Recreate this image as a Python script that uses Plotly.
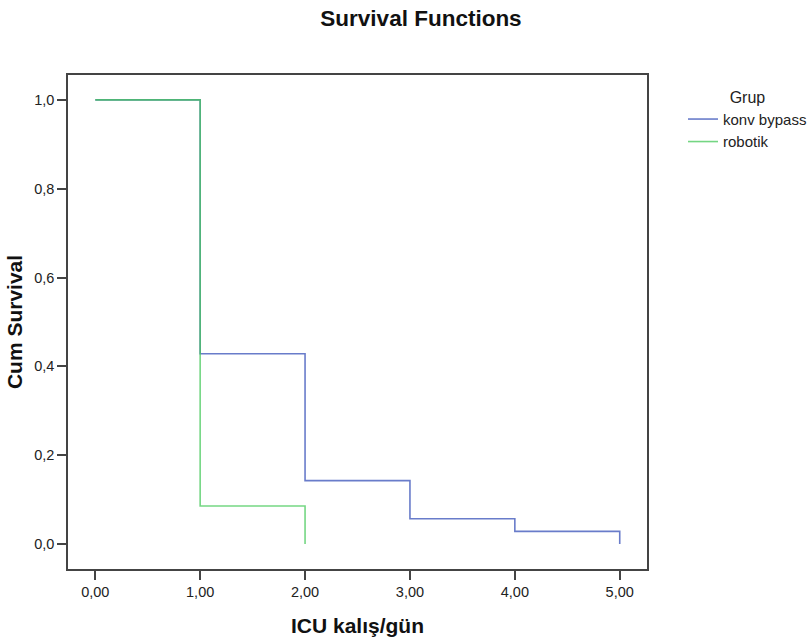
import plotly.graph_objects as go

# Data (Kaplan-Meier step values)
konv_time = [0, 1, 1, 2, 2, 3, 3, 4, 4, 5, 5]
konv_surv = [1.0, 1.0, 0.4286, 0.4286, 0.1429, 0.1429, 0.0571, 0.0571, 0.0286, 0.0286, 0.0]
rob_time = [0, 1, 1, 2, 2]
rob_surv = [1.0, 1.0, 0.0857, 0.0857, 0.0]

x_ticks = [0, 1, 2, 3, 4, 5]
x_ticktext = ["0,00", "1,00", "2,00", "3,00", "4,00", "5,00"]
y_ticks = [0, 0.2, 0.4, 0.6, 0.8, 1.0]
y_ticktext = ["0,0", "0,2", "0,4", "0,6", "0,8", "1,0"]

FONT = "Liberation Sans, Arial, sans-serif"

fig = go.Figure()
fig.add_trace(go.Scatter(x=konv_time, y=konv_surv, mode="lines", name="konv bypass",
                         line=dict(color="rgb(105,124,202)", width=1.6),
                         hoverinfo="skip"))
fig.add_trace(go.Scatter(x=rob_time, y=rob_surv, mode="lines", name="robotik",
                         line=dict(color="rgba(70,200,90,0.75)", width=1.6),
                         hoverinfo="skip"))

fig.update_layout(
    width=811, height=640,
    margin=dict(l=68, r=164, t=75, b=71),
    paper_bgcolor="white", plot_bgcolor="white",
    font=dict(family=FONT, size=14, color="#222"),
    title=dict(text="<b>Survival Functions</b>", x=421/811, xanchor="center",
               y=1 - 18/640, yanchor="middle", xref="container", yref="container",
               font=dict(size=22.5, color="#111", family=FONT)),
    xaxis=dict(range=[-0.26, 5.26], tickvals=x_ticks, ticktext=x_ticktext,
               showgrid=False, zeroline=False, showline=True, mirror=True,
               linecolor="#444", linewidth=1.5, ticks="outside", ticklen=9,
               tickcolor="#444", tickwidth=1.5, automargin=False,
               tickfont=dict(size=14.5, color="#222"),
               title=dict(text="<b>ICU kalış/gün</b>", font=dict(size=21, color="#111"), standoff=19)),
    yaxis=dict(range=[-0.056, 1.056], tickvals=y_ticks, ticktext=y_ticktext,
               showgrid=False, zeroline=False, showline=True, mirror=True,
               linecolor="#444", linewidth=1.5, ticks="outside", ticklen=9,
               tickcolor="#444", tickwidth=1.5, automargin=False,
               tickfont=dict(size=14.5, color="#222"),
               title=dict(text="<b>Cum Survival</b>", font=dict(size=21, color="#111"), standoff=6)),
    legend=dict(title=dict(text="Grup", side="top center", font=dict(size=16, color="#222")),
                x=683/811, xref="container", xanchor="left",
                y=1 - 82/640, yref="container", yanchor="top",
                font=dict(size=15, color="#222"), itemwidth=30,
                tracegroupgap=0, bgcolor="rgba(0,0,0,0)"),
    showlegend=True,
)

fig.write_html("out.html")
